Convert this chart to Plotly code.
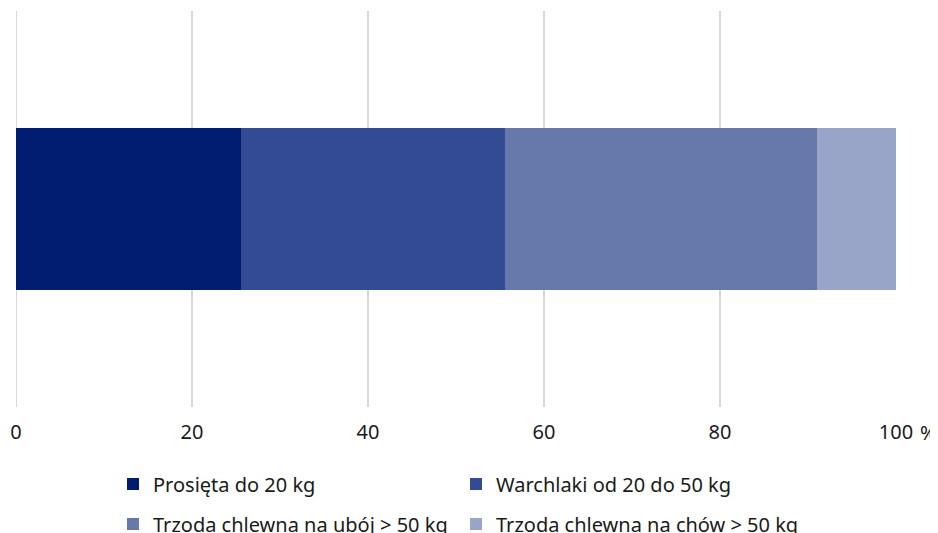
import plotly.graph_objects as go

categories = ["Struktura"]
series_names = ["Prosięta do 20 kg", "Warchlaki od 20 do 50 kg",
                "Trzoda chlewna na ubój > 50 kg", "Trzoda chlewna na chów > 50 kg"]
series_values = [25.6, 30.0, 35.4, 9.0]
colors = ["#001D72", "#334B93", "#6778AB", "#99A5C8"]
tick_vals = [0, 20, 40, 60, 80, 100]
tick_text = ["0", "20", "40", "60", "80", "100"]

FONT = "Noto Sans"
fig = go.Figure()
for i, (name, val, col) in enumerate(zip(series_names, series_values, colors)):
    fig.add_trace(go.Bar(
        y=categories, x=[val], name=name, orientation="h",
        marker=dict(color=col, line=dict(width=0)),
        width=0.41,
        legend="legend" if i < 2 else "legend2",
    ))

# page body adds an 8px offset; compensate in margins
W, H = 938, 533
ml, mr, mt, mb = 8, 50, 3, 134
pw = W - ml - mr
ph = H - mt - mb

def px_to_x(px):
    return (px - ml) / pw

def py_to_y(py):
    return (H - mb - py) / ph

legend_common = dict(
    orientation="h", xanchor="left", yanchor="middle",
    font=dict(family=FONT, size=20, color="#1A1A1A"),
    entrywidth=298, entrywidthmode="pixels",
    itemwidth=30, bgcolor="rgba(0,0,0,0)",
    traceorder="normal",
)

fig.update_layout(
    width=W, height=H,
    margin=dict(l=ml, r=mr, t=mt, b=mb, autoexpand=False),
    barmode="stack",
    plot_bgcolor="white", paper_bgcolor="white",
    font=dict(family=FONT, size=20, color="#1A1A1A"),
    showlegend=True,
    legend=dict(x=px_to_x(105), y=py_to_y(476), **legend_common),
    legend2=dict(x=px_to_x(105), y=py_to_y(516), **legend_common),
    xaxis=dict(
        range=[0, 100], tickvals=tick_vals, ticktext=tick_text,
        showgrid=True, gridcolor="#D9D9D9", gridwidth=2,
        zeroline=False, showline=False, automargin=False,
        ticks="outside", ticklen=7, tickcolor="rgba(0,0,0,0)",
        tickfont=dict(family=FONT, size=20, color="#1A1A1A"),
        fixedrange=True,
    ),
    yaxis=dict(range=[-0.5, 0.5], showticklabels=False, showgrid=False,
               zeroline=False, fixedrange=True, automargin=False),
)
fig.add_annotation(x=100, y=0, xref="x", yref="paper", yanchor="top",
                   xanchor="left", text="%", showarrow=False, xshift=22, yshift=-10,
                   font=dict(family=FONT, size=20, color="#1A1A1A"))
fig.add_shape(type="line", x0=0, x1=0, y0=0, y1=1, xref="x", yref="paper",
              line=dict(color="#D9D9D9", width=2), layer="below")

fig.write_html("out.html")
